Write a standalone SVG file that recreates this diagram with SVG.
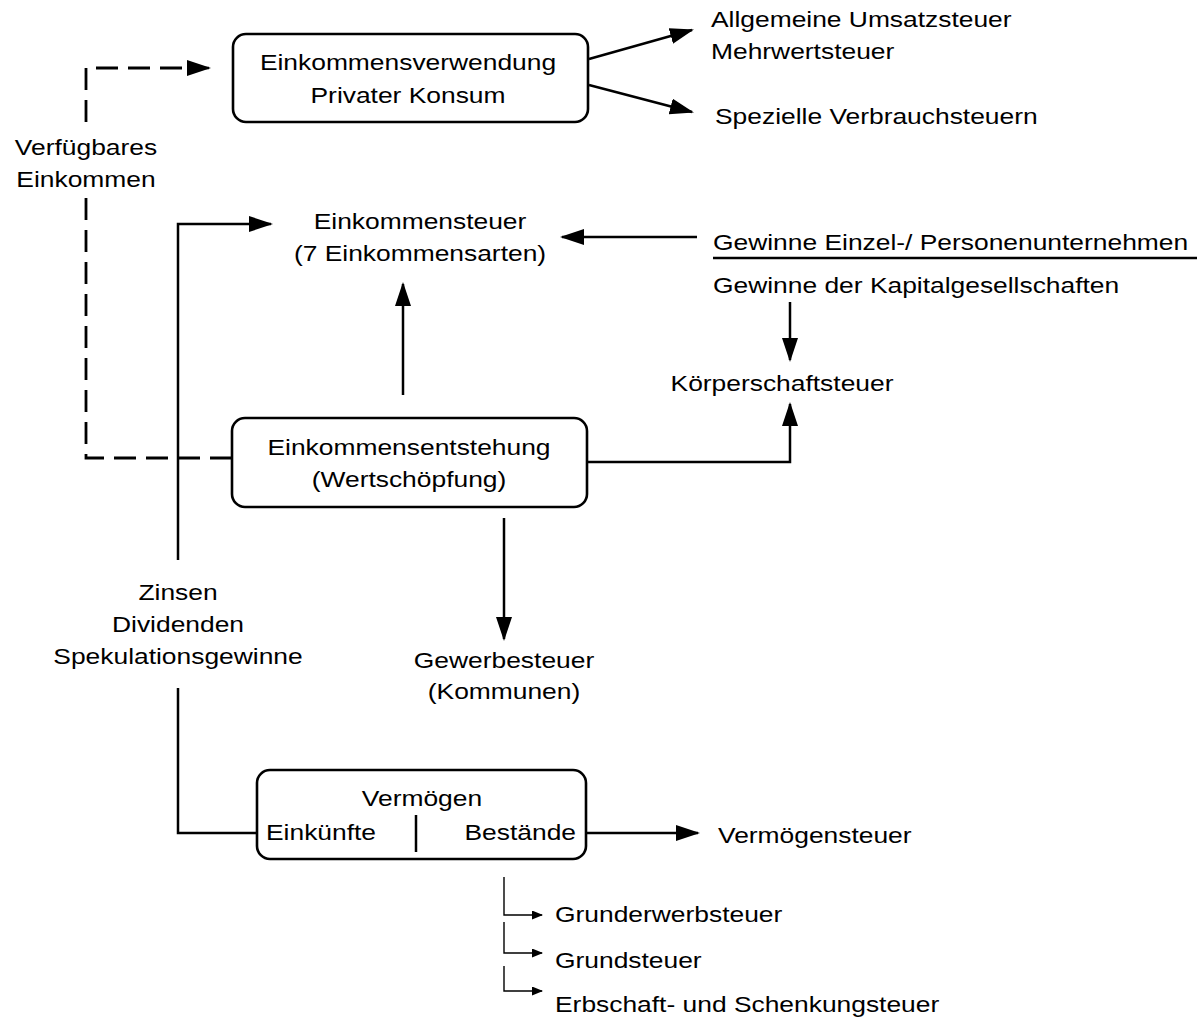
<svg xmlns="http://www.w3.org/2000/svg" width="1198" height="1020" viewBox="0 0 1198 1020">
<style>
  text { font-family: "Liberation Sans", Arial, sans-serif; font-size: 22px; fill: #000; }
  .m { text-anchor: middle; }
  .e { text-anchor: end; }
  .box { fill: #fff; stroke: #000; stroke-width: 2.6; }
  .ln { fill: none; stroke: #000; stroke-width: 2.5; }
  .dash { fill: none; stroke: #000; stroke-width: 2.8; stroke-dasharray: 22 10; }
  .thin { fill: none; stroke: #000; stroke-width: 1.4; }
</style>
<defs>
  <marker id="ah" markerUnits="userSpaceOnUse" markerWidth="26" markerHeight="18" refX="22" refY="8" orient="auto">
    <path d="M0,0 L24,8 L0,16 Z" fill="#000"/>
  </marker>
  <marker id="as" markerUnits="userSpaceOnUse" markerWidth="14" markerHeight="12" refX="10" refY="4.5" orient="auto">
    <path d="M0,0 L11,4.5 L0,9 Z" fill="#000"/>
  </marker>
</defs>

<g id="connectors">
  <path class="dash" d="M86,122 V68 H188"/>
  <path class="ln" d="M188,68 H209" marker-end="url(#ah)"/>
  <path class="dash" d="M86,198 V458 H232"/>
  <path class="ln" d="M589,59 L692,30" marker-end="url(#ah)"/>
  <path class="ln" d="M589,85 L692,112" marker-end="url(#ah)"/>
  <path class="ln" d="M178,560 V224 H271" marker-end="url(#ah)"/>
  <path class="ln" d="M697,237 H562" marker-end="url(#ah)"/>
  <path class="ln" d="M403,395 V284" marker-end="url(#ah)"/>
  <path class="ln" d="M790,302 V360" marker-end="url(#ah)"/>
  <path class="ln" d="M587,462 H790 V404" marker-end="url(#ah)"/>
  <path class="ln" d="M504,518 V639" marker-end="url(#ah)"/>
  <path class="ln" d="M178,688 V833 H257"/>
  <path class="ln" d="M586,833 H698" marker-end="url(#ah)"/>
  <path class="ln" d="M713,258 H1197"/>
  <path class="thin" d="M504,877 V915 H542" marker-end="url(#as)"/>
  <path class="thin" d="M504,922 V953 H542" marker-end="url(#as)"/>
  <path class="thin" d="M504,966 V991 H542" marker-end="url(#as)"/>
</g>

<g id="einkommensverwendung">
  <rect class="box" x="233" y="34" width="355" height="88" rx="13"/>
  <text class="m" transform="translate(408,70) scale(1.2,1)">Einkommensverwendung</text>
  <text class="m" transform="translate(408,103) scale(1.2,1)">Privater Konsum</text>
</g>

<g id="umsatzsteuer">
  <text transform="translate(711,27) scale(1.2,1)">Allgemeine Umsatzsteuer</text>
  <text transform="translate(711,59) scale(1.2,1)">Mehrwertsteuer</text>
</g>

<g id="verbrauchsteuern">
  <text transform="translate(715,124) scale(1.2,1)">Spezielle Verbrauchsteuern</text>
</g>

<g id="verfuegbares-einkommen">
  <text class="m" transform="translate(86,155) scale(1.2,1)">Verfügbares</text>
  <text class="m" transform="translate(86,187) scale(1.2,1)">Einkommen</text>
</g>

<g id="einkommensteuer">
  <text class="m" transform="translate(420,229) scale(1.2,1)">Einkommensteuer</text>
  <text class="m" transform="translate(420,261) scale(1.2,1)">(7 Einkommensarten)</text>
</g>

<g id="gewinne-personen">
  <text transform="translate(713,250) scale(1.2,1)">Gewinne Einzel-/ Personenunternehmen</text>
</g>

<g id="gewinne-kapital">
  <text transform="translate(713,293) scale(1.2,1)">Gewinne der Kapitalgesellschaften</text>
</g>

<g id="koerperschaftsteuer">
  <text class="m" transform="translate(782,391) scale(1.2,1)">Körperschaftsteuer</text>
</g>

<g id="einkommensentstehung">
  <rect class="box" x="232" y="418" width="355" height="89" rx="13"/>
  <text class="m" transform="translate(409,455) scale(1.2,1)">Einkommensentstehung</text>
  <text class="m" transform="translate(409,487) scale(1.2,1)">(Wertschöpfung)</text>
</g>

<g id="kapitalertraege">
  <text class="m" transform="translate(178,600) scale(1.2,1)">Zinsen</text>
  <text class="m" transform="translate(178,632) scale(1.2,1)">Dividenden</text>
  <text class="m" transform="translate(178,664) scale(1.2,1)">Spekulationsgewinne</text>
</g>

<g id="gewerbesteuer">
  <text class="m" transform="translate(504,668) scale(1.2,1)">Gewerbesteuer</text>
  <text class="m" transform="translate(504,699) scale(1.2,1)">(Kommunen)</text>
</g>

<g id="vermoegen">
  <rect class="box" x="257" y="770" width="329" height="89" rx="13"/>
  <text class="m" transform="translate(422,806) scale(1.2,1)">Vermögen</text>
  <text transform="translate(266,840) scale(1.2,1)">Einkünfte</text>
  <text class="e" transform="translate(576,840) scale(1.2,1)">Bestände</text>
  <path class="ln" d="M416,815 V852"/>
</g>

<g id="vermoegensteuer">
  <text transform="translate(718,843) scale(1.2,1)">Vermögensteuer</text>
</g>

<g id="grunderwerbsteuer">
  <text transform="translate(555,922) scale(1.2,1)">Grunderwerbsteuer</text>
</g>

<g id="grundsteuer">
  <text transform="translate(555,968) scale(1.2,1)">Grundsteuer</text>
</g>

<g id="erbschaftsteuer">
  <text transform="translate(555,1012) scale(1.2,1)">Erbschaft- und Schenkungsteuer</text>
</g>
</svg>
